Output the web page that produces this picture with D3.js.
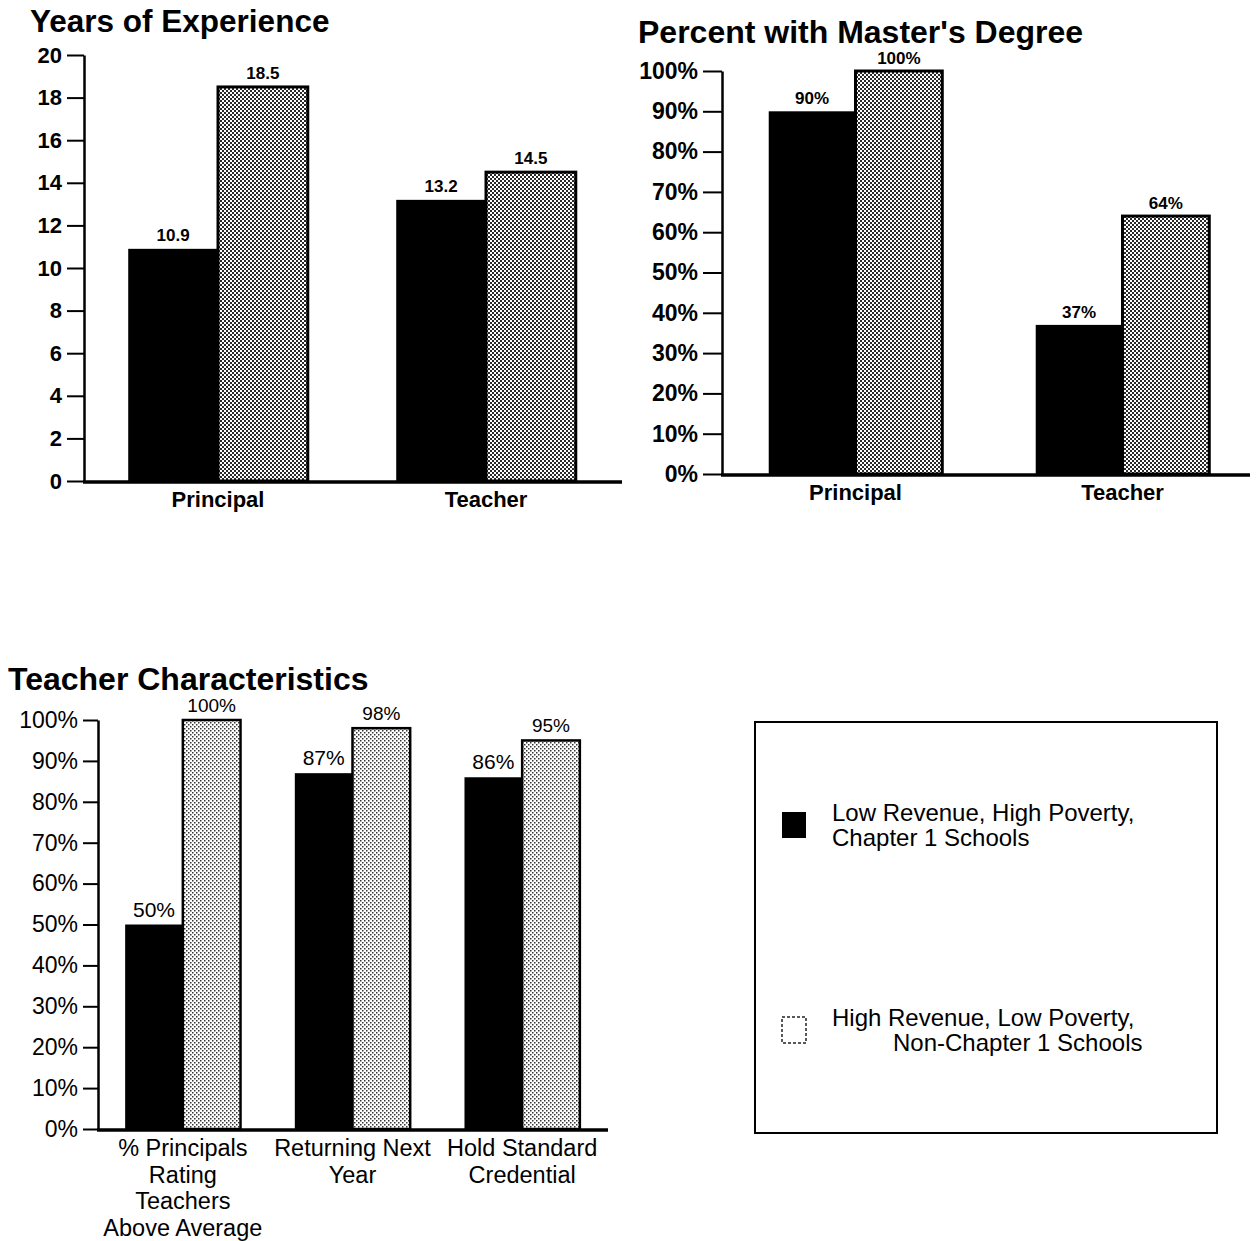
<!DOCTYPE html>
<html>
<head>
<meta charset="utf-8">
<script src="https://cdn.jsdelivr.net/npm/d3@7"></script>
<style>
  html, body { margin: 0; padding: 0; background: #fff; }
  svg { display: block; }
  text { font-family: "Liberation Sans", Arial, Helvetica, sans-serif; fill: #000; }
</style>
</head>
<body>
<svg id="chart" width="1258" height="1241"></svg>
<script>
// ---- data ----
const seriesNames = [
  ["Low Revenue, High Poverty,", "Chapter 1 Schools"],
  ["High Revenue, Low Poverty,", "Non-Chapter 1 Schools"]
];

const expCategories = ["Principal", "Teacher"];
const expLow = [10.9, 13.2];
const expHigh = [18.5, 14.5];
const expTicks = [0, 2, 4, 6, 8, 10, 12, 14, 16, 18, 20];

const mastersCategories = ["Principal", "Teacher"];
const mastersLow = [90, 37];
const mastersHigh = [100, 64];

const pctTicks = [0, 10, 20, 30, 40, 50, 60, 70, 80, 90, 100];

const teacherCategories = [
  ["% Principals", "Rating", "Teachers", "Above Average"],
  ["Returning Next", "Year"],
  ["Hold Standard", "Credential"]
];
const teacherLow = [50, 87, 86];
const teacherHigh = [100, 98, 95];

// ---- drawing ----
const svg = d3.select("#chart");
const defs = svg.append("defs");

// halftone fills for the high-revenue series
function halftone(id, size, dot, color) {
  const p = defs.append("pattern")
    .attr("id", id).attr("patternUnits", "userSpaceOnUse")
    .attr("width", size).attr("height", size);
  p.append("rect").attr("width", size).attr("height", size).attr("fill", "#fff");
  p.append("rect").attr("x", 0).attr("y", 0).attr("width", dot).attr("height", dot).attr("fill", color);
  p.append("rect").attr("x", size / 2).attr("y", size / 2).attr("width", dot).attr("height", dot).attr("fill", color);
}
halftone("shadeDark", 4, 2, "#2a2a2a");
halftone("shadeLight", 4, 1.5, "#333");

function panel(o) {
  const g = svg.append("g");
  const y = d3.scaleLinear().domain(o.domain).range([o.y0, o.y1]);
  const x = d3.scaleBand().domain(d3.range(o.categories.length))
    .range([o.x0, o.x1]).paddingInner(o.pad).paddingOuter(o.pad / 2);
  const inner = d3.scaleBand().domain([0, 1]).range([0, x.bandwidth()]);

  // title
  g.append("text").attr("x", o.titleX).attr("y", o.titleY)
    .attr("font-size", o.titleSize).attr("font-weight", "bold")
    .text(o.title);

  // bars
  const rows = o.categories.map((c, i) => ({ i, low: o.low[i], high: o.high[i] }));
  g.selectAll("rect.low").data(rows).join("rect").attr("class", "low")
    .attr("x", d => x(d.i) + inner(0)).attr("width", inner.bandwidth())
    .attr("y", d => y(d.low)).attr("height", d => y(0) - y(d.low))
    .attr("fill", "#000");
  g.selectAll("rect.high").data(rows).join("rect").attr("class", "high")
    .attr("x", d => x(d.i) + inner(1)).attr("width", inner.bandwidth())
    .attr("y", d => y(d.high)).attr("height", d => y(0) - y(d.high))
    .attr("fill", `url(#${o.shade})`).attr("stroke", "#000").attr("stroke-width", o.barStroke);

  // value labels
  g.selectAll("text.lowLab").data(rows).join("text").attr("class", "lowLab")
    .attr("x", d => x(d.i) + inner(0) + inner.bandwidth() / 2)
    .attr("y", d => y(d.low) - o.labelGap)
    .attr("text-anchor", "middle").attr("font-size", o.lowLabelSize)
    .attr("font-weight", o.labelWeight).text(d => o.fmt(d.low));
  g.selectAll("text.highLab").data(rows).join("text").attr("class", "highLab")
    .attr("x", d => x(d.i) + inner(1) + inner.bandwidth() / 2)
    .attr("y", d => y(d.high) - o.labelGap)
    .attr("text-anchor", "middle").attr("font-size", o.highLabelSize)
    .attr("font-weight", o.labelWeight).text(d => o.fmt(d.high));

  // y axis
  const ax = g.append("g").attr("transform", `translate(${o.x0},0)`)
    .call(d3.axisLeft(y).tickValues(o.ticks).tickFormat(o.tickFmt)
      .tickSize(o.tickLen).tickSizeOuter(0).tickPadding(5));
  ax.select(".domain").attr("stroke", "#000").attr("stroke-width", 2.5);
  ax.selectAll(".tick line").attr("stroke", "#000").attr("stroke-width", 2);
  ax.selectAll(".tick text").attr("font-size", o.tickSize)
    .attr("font-weight", o.tickWeight).attr("fill", "#000")
    .attr("font-family", "'Liberation Sans', Arial, Helvetica, sans-serif");

  // baseline
  g.append("line").attr("x1", o.x0 - 1).attr("x2", o.baseEnd)
    .attr("y1", y(0) + 1).attr("y2", y(0) + 1)
    .attr("stroke", "#000").attr("stroke-width", 3.5);

  // category labels
  const cat = g.selectAll("text.cat").data(o.categories).join("text").attr("class", "cat")
    .attr("text-anchor", "middle").attr("font-size", o.catSize)
    .attr("font-weight", o.catWeight)
    .attr("transform", (d, i) => `translate(${x(i) + x.bandwidth() / 2},${y(0) + o.catGap})`);
  cat.selectAll("tspan").data(d => Array.isArray(d) ? d : [d]).join("tspan")
    .attr("x", 0).attr("y", (d, j) => j * o.catLine).text(d => d);
}

panel({
  title: "Years of Experience", titleX: 30, titleY: 32, titleSize: 31.5,
  categories: expCategories, low: expLow, high: expHigh,
  domain: [0, 20], y0: 481, y1: 55, x0: 84, x1: 620, pad: 0.33, baseEnd: 622,
  ticks: expTicks, tickFmt: d => d, tickLen: 17, tickSize: 22, tickWeight: "bold",
  shade: "shadeDark", barStroke: 3,
  fmt: d3.format(".1f"), labelGap: 8, lowLabelSize: 17, highLabelSize: 17, labelWeight: "bold",
  catSize: 22, catWeight: "bold", catGap: 26, catLine: 26
});

panel({
  title: "Percent with Master's Degree", titleX: 638, titleY: 43, titleSize: 32,
  categories: mastersCategories, low: mastersLow, high: mastersHigh,
  domain: [0, 100], y0: 474, y1: 71, x0: 722, x1: 1256, pad: 0.35, baseEnd: 1250,
  ticks: pctTicks, tickFmt: d => d + "%", tickLen: 19, tickSize: 23, tickWeight: "bold",
  shade: "shadeDark", barStroke: 3,
  fmt: d => d + "%", labelGap: 7, lowLabelSize: 17, highLabelSize: 17, labelWeight: "bold",
  catSize: 22, catWeight: "bold", catGap: 26, catLine: 26
});

panel({
  title: "Teacher Characteristics", titleX: 8, titleY: 690, titleSize: 32,
  categories: teacherCategories, low: teacherLow, high: teacherHigh,
  domain: [0, 100], y0: 1129, y1: 720, x0: 98, x1: 607, pad: 0.32, baseEnd: 608,
  ticks: pctTicks, tickFmt: d => d + "%", tickLen: 15, tickSize: 23, tickWeight: "normal",
  shade: "shadeLight", barStroke: 2.5,
  fmt: d => d + "%", labelGap: 8, lowLabelSize: 21, highLabelSize: 19, labelWeight: "normal",
  catSize: 23.5, catWeight: "normal", catGap: 27, catLine: 26.5
});

// ---- legend ----
const leg = svg.append("g");
leg.append("rect").attr("x", 755).attr("y", 722).attr("width", 462).attr("height", 411)
  .attr("fill", "none").attr("stroke", "#000").attr("stroke-width", 2);
const legendRows = [
  { y: 812, fill: "#000", stroke: "none", dash: null, indent: [0, 0] },
  { y: 1017, fill: "#fff", stroke: "#222", dash: "3,2", indent: [0, 61] }
];
legendRows.forEach((r, i) => {
  leg.append("rect").attr("x", 782).attr("y", r.y).attr("width", 24).attr("height", 26)
    .attr("fill", r.fill).attr("stroke", r.stroke).attr("stroke-width", 1.5)
    .attr("stroke-dasharray", r.dash);
  const t = leg.append("text").attr("font-size", 24);
  seriesNames[i].forEach((line, j) => {
    t.append("tspan").attr("x", 832 + r.indent[j]).attr("y", r.y + 9 + j * 25).text(line);
  });
});
</script>
</body>
</html>
